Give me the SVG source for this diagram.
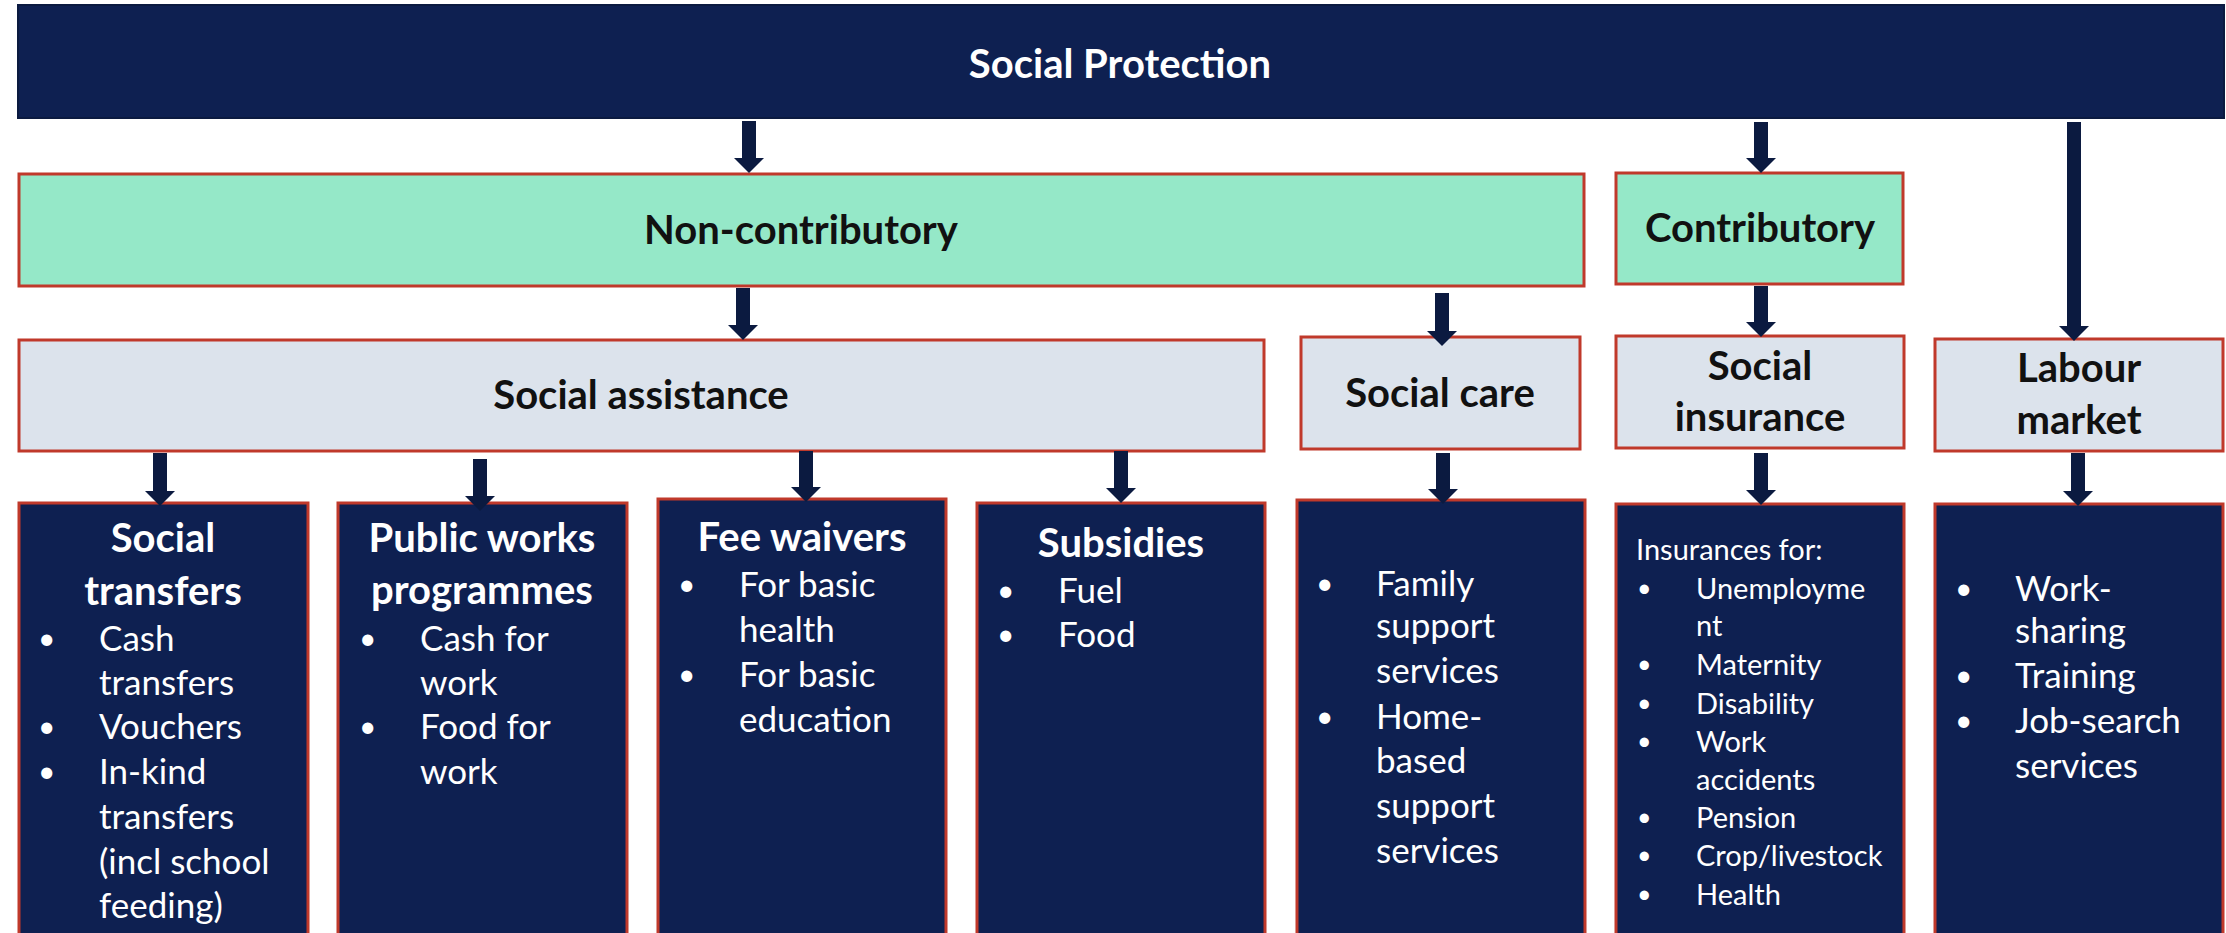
<svg xmlns="http://www.w3.org/2000/svg" width="2226" height="933" viewBox="0 0 2226 933">
  <defs>
    <style>
      .bar{fill:#0E2051;stroke:#0B1A40;stroke-width:2}
      .mint{fill:#95E8C8;stroke:#C0392B;stroke-width:3}
      .pale{fill:#DCE3EC;stroke:#C0392B;stroke-width:3}
      .leaf{fill:#0E2051;stroke:#C0392B;stroke-width:3}
      text{font-family:Lato,"Liberation Sans",sans-serif}
      .h{font-weight:bold;font-size:40px;text-anchor:middle}
      .dk{fill:#111111}
      .wt{fill:#FFFFFF}
      .b{font-size:35px;fill:#FFFFFF}
      .s{font-size:29px;fill:#FFFFFF}
      .dot{font-size:30px}
      .s .dot{font-size:25px}
      .conn line{stroke:#0B1A40;stroke-width:14;marker-end:url(#head)}
    </style>
    <marker id="head" markerUnits="userSpaceOnUse" orient="auto" viewBox="0 -15 15 30" refX="0" refY="0" markerWidth="15" markerHeight="30">
      <path d="M0,-15 L15,0 L0,15 Z" fill="#0B1A40"/>
    </marker>
  </defs>

  <!-- root -->
  <g id="social-protection">
    <rect class="bar" x="18" y="5" width="2206" height="113"/>
    <text class="h wt" x="1120" y="78">Social Protection</text>
  </g>

  <!-- second tier -->
  <g id="non-contributory">
    <rect class="mint" x="19" y="174" width="1565" height="112"/>
    <text class="h dk" x="801" y="244">Non-contributory</text>
  </g>
  <g id="contributory">
    <rect class="mint" x="1616" y="173" width="287" height="111"/>
    <text class="h dk" x="1760" y="242">Contributory</text>
  </g>

  <!-- third tier -->
  <g id="social-assistance">
    <rect class="pale" x="19" y="340" width="1245" height="111"/>
    <text class="h dk" x="641" y="409">Social assistance</text>
  </g>
  <g id="social-care">
    <rect class="pale" x="1301" y="337" width="279" height="112"/>
    <text class="h dk" x="1440" y="407">Social care</text>
  </g>
  <g id="social-insurance">
    <rect class="pale" x="1616" y="336" width="288" height="112"/>
    <text class="h dk" x="1760" y="380">Social</text>
    <text class="h dk" x="1760" y="431">insurance</text>
  </g>
  <g id="labour-market">
    <rect class="pale" x="1935" y="339" width="288" height="112"/>
    <text class="h dk" x="2079" y="382">Labour</text>
    <text class="h dk" x="2079" y="434">market</text>
  </g>

  <!-- programme boxes -->
  <g id="social-transfers">
    <rect class="leaf" x="19" y="503" width="289" height="440"/>
    <text class="h wt" x="163" y="552">Social</text>
    <text class="h wt" x="163" y="605">transfers</text>
    <g class="b">
      <text class="dot" x="38" y="649">•</text><text x="99" y="651">Cash</text>
      <text x="99" y="695">transfers</text>
      <text class="dot" x="38" y="737">•</text><text x="99" y="739">Vouchers</text>
      <text class="dot" x="38" y="782">•</text><text x="99" y="784">In-kind</text>
      <text x="99" y="829">transfers</text>
      <text x="99" y="874">(incl school</text>
      <text x="99" y="918">feeding)</text>
    </g>
  </g>
  <g id="public-works">
    <rect class="leaf" x="338" y="503" width="289" height="440"/>
    <text class="h wt" x="482" y="552">Public works</text>
    <text class="h wt" x="482" y="604">programmes</text>
    <g class="b">
      <text class="dot" x="359" y="649">•</text><text x="420" y="651">Cash for</text>
      <text x="420" y="695">work</text>
      <text class="dot" x="359" y="737">•</text><text x="420" y="739">Food for</text>
      <text x="420" y="784">work</text>
    </g>
  </g>
  <g id="fee-waivers">
    <rect class="leaf" x="658" y="499" width="288" height="444"/>
    <text class="h wt" x="802" y="551">Fee waivers</text>
    <g class="b">
      <text class="dot" x="678" y="595">•</text><text x="739" y="597">For basic</text>
      <text x="739" y="642">health</text>
      <text class="dot" x="678" y="685">•</text><text x="739" y="687">For basic</text>
      <text x="739" y="732">education</text>
    </g>
  </g>
  <g id="subsidies">
    <rect class="leaf" x="977" y="503" width="288" height="440"/>
    <text class="h wt" x="1121" y="557">Subsidies</text>
    <g class="b">
      <text class="dot" x="997" y="601">•</text><text x="1058" y="603">Fuel</text>
      <text class="dot" x="997" y="645">•</text><text x="1058" y="647">Food</text>
    </g>
  </g>
  <g id="social-care-services">
    <rect class="leaf" x="1297" y="500" width="288" height="443"/>
    <g class="b">
      <text class="dot" x="1316" y="594">•</text><text x="1376" y="596">Family</text>
      <text x="1376" y="638">support</text>
      <text x="1376" y="683">services</text>
      <text class="dot" x="1316" y="727">•</text><text x="1376" y="729">Home-</text>
      <text x="1376" y="773">based</text>
      <text x="1376" y="818">support</text>
      <text x="1376" y="863">services</text>
    </g>
  </g>
  <g id="insurance-types">
    <rect class="leaf" x="1616" y="504" width="288" height="439"/>
    <g class="s">
      <text x="1636" y="560">Insurances for:</text>
      <text class="dot" x="1637" y="597">•</text><text x="1696" y="599">Unemployme</text>
      <text x="1696" y="636">nt</text>
      <text class="dot" x="1637" y="673">•</text><text x="1696" y="675">Maternity</text>
      <text class="dot" x="1637" y="712">•</text><text x="1696" y="714">Disability</text>
      <text class="dot" x="1637" y="750">•</text><text x="1696" y="752">Work</text>
      <text x="1696" y="790">accidents</text>
      <text class="dot" x="1637" y="826">•</text><text x="1696" y="828">Pension</text>
      <text class="dot" x="1637" y="864">•</text><text x="1696" y="866">Crop/livestock</text>
      <text class="dot" x="1637" y="903">•</text><text x="1696" y="905">Health</text>
    </g>
  </g>
  <g id="labour-measures">
    <rect class="leaf" x="1935" y="504" width="288" height="439"/>
    <g class="b">
      <text class="dot" x="1955" y="599">•</text><text x="2015" y="601">Work-</text>
      <text x="2015" y="643">sharing</text>
      <text class="dot" x="1955" y="686">•</text><text x="2015" y="688">Training</text>
      <text class="dot" x="1955" y="731">•</text><text x="2015" y="733">Job-search</text>
      <text x="2015" y="778">services</text>
    </g>
  </g>

  <!-- connectors: shaft ends at the arrowhead base, head adds 15px -->
  <g id="connectors" class="conn">
    <line x1="749" y1="121" x2="749" y2="158"/>
    <line x1="1761" y1="122" x2="1761" y2="158"/>
    <line x1="2074" y1="122" x2="2074" y2="326"/>
    <line x1="743" y1="288" x2="743" y2="325"/>
    <line x1="1442" y1="293" x2="1442" y2="331"/>
    <line x1="1761" y1="286" x2="1761" y2="322"/>
    <line x1="160" y1="453" x2="160" y2="491"/>
    <line x1="480" y1="459" x2="480" y2="496"/>
    <line x1="806" y1="451" x2="806" y2="487"/>
    <line x1="1121" y1="451" x2="1121" y2="488"/>
    <line x1="1443" y1="453" x2="1443" y2="489"/>
    <line x1="1761" y1="453" x2="1761" y2="490"/>
    <line x1="2078" y1="453" x2="2078" y2="491"/>
  </g>
</svg>
